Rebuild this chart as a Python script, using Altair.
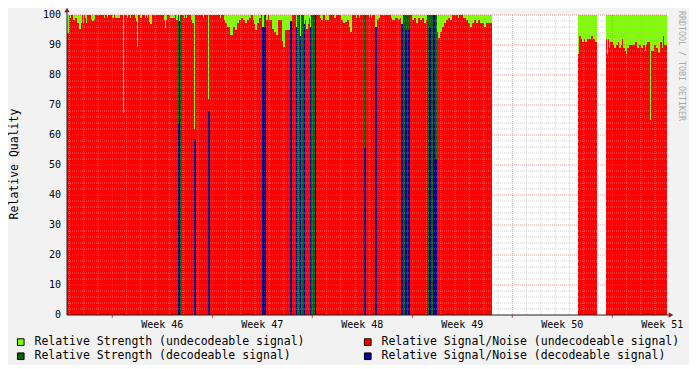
import altair as alt
import pandas as pd

# ---- time base: one consolidated RRD row per pixel column (~1.68 h) ----
ROW_DAYS = 0.07
START_DAY = -3.17      # plot start, in days relative to the Monday of week 46
END_DAY = 38.83

# ---- series as step lists: (row, value) holds until the next row; None = no data ----
strength_undec = [(0, 100), (425, None), (511, 100), (530, None), (539, 100), (600, None)]

sn_undec = [
    (0, 94), (2, 100), (3, 99), (4, 100), (6, 98.3), (8, 99), (10, 97.3), (12, 95.3),
    (14, 97.3), (15, 100), (16, 97.3), (17, 100), (18, 99), (19, 97.3), (20, 100),
    (24, 98.5), (25, 98), (27, 98.5), (28, 100), (37, 99), (38, 100), (40, 99), (41, 100),
    (45, 99), (47, 100), (48, 99), (53, 100), (56, 67.4), (57, 100), (60, 99), (61, 100),
    (63, 99), (64, 100), (68, 99), (69, 98), (70, 89.3), (71, 100), (73, 99), (75, 100),
    (78, 99), (79, 100), (80, 99), (81, 100), (82, 97.7), (83, 97), (85, 100),
    (97, 98.3), (98, 95.7), (99, 98.3), (100, 100), (103, 99), (108, 100), (109, 98.3),
    (111, None), (114, 100), (117, 99), (118, 100), (119, 99), (120, 100),
    (124, 98.3), (125, 97.3), (127, 62), (128, 100), (136, 99), (137, 100),
    (141, 72), (142, 100), (153, 99), (154, 100), (157, 98.3), (158, 97.3), (160, 96),
    (163, 93.3), (166, 96), (168, 95), (170, 97.3), (172, 98.3), (174, 99), (176, 98.3),
    (178, 97.3), (180, 98.3), (182, 99), (184, 100), (186, 98.3), (187, 97), (188, 95),
    (190, 97.3), (192, 99), (194, 100), (195, None), (199, 98.3), (201, 100),
    (202, 98.3), (205, 95.3), (207, 94.3), (209, 93.3), (211, 98.3), (215, 91.3),
    (216, 89.3), (218, 95), (223, None), (225, 100), (229, None), (234, 100),
    (235, None), (238, 98.3), (239, 95.3), (241, 97), (242, 99), (243, None),
    (249, 100), (253, 99), (254, 98.3), (256, 100), (258, 98.3), (262, 100),
    (267, 99), (269, 100), (274, 98.3), (276, 97.3), (278, 97.7), (280, 98.3),
    (282, 96), (283, 94.3), (285, 100), (289, 99), (290, 100), (292, 99), (293, 100),
    (297, None), (299, 100), (302, 99), (303, 100), (304, 99), (305, 100),
    (308, None), (310, 98.5), (312, 99), (313, 100), (324, 99), (325, 98.3),
    (328, 99), (331, 98.5), (333, 99), (334, None), (343, 100), (345, 98.3),
    (347, 99), (349, 97.3), (351, 99), (353, 98.3), (355, 99), (357, 97.3),
    (359, 98.3), (360, None), (370, 94.3), (371, 92.3), (373, 94.3), (375, 96),
    (377, 97.3), (379, 98.3), (381, 99), (383, 98.3), (385, 100), (391, 99),
    (392, 100), (396, 99), (399, 98.3), (401, 97.3), (403, 96), (405, 97.3),
    (407, 98.3), (409, 97.3), (411, 98.3), (413, 97.3), (417, 96), (419, 97.3),
    (425, None),
    (511, 87), (512, 93), (514, 92), (515, 91), (517, 92), (518, 91), (520, 92),
    (524, 93), (526, 92), (528, 91), (530, None),
    (539, 92), (540, 87), (541, 92), (542, 89), (543, 91), (546, 90), (547, 89),
    (549, 90), (551, 91), (552, 89), (554, 90), (555, 92), (556, 89), (558, 88),
    (559, 87), (560, 89), (562, 90), (568, 91), (570, 89), (572, 90), (574, 89),
    (576, 90), (578, 88), (579, 90), (580, 91), (583, 65), (584, 88), (587, 90),
    (589, 89), (591, 87.5), (593, 91), (595, 89), (596, 93), (597, 90), (600, None),
]

strength_dec = [
    (111, 100), (112, None), (113, 100), (114, None), (197, 100), (199, None),
    (230, 100), (233, None), (235, 100), (237, None), (244, 100), (248, None),
    (297, 100), (299, None), (336, 100), (343, None), (360, 100), (366, None),
    (368, 100), (370, None),
]

sn_dec = [
    (111, 64), (112, 98), (113, None), (127, 58.6), (129, None), (141, 68), (143, None),
    (195, 96), (199, None), (223, 98), (225, None), (229, 96), (230, None),
    (233, 93), (234, None), (237, 97), (238, None), (243, 96), (244, None),
    (248, 100), (249, None), (297, 55.7), (299, None), (308, 96), (310, None),
    (334, 97), (336, None), (338, 95), (340, None), (341, 95), (343, None),
    (362, 96), (364, None), (366, 100), (368, 52), (370, None),
]

S_UND = "Relative Strength (undecodeable signal)"
N_UND = "Relative Signal/Noise (undecodeable signal)"
S_DEC = "Relative Strength  (decodeable signal)"
N_DEC = "Relative Signal/Noise (decodeable signal)"
COLOR_OF = {S_UND: "#80FF00", N_UND: "#FF0000", S_DEC: "#006600", N_DEC: "#000099"}
# legend grid is filled column by column: left column first, then right column
LEGEND_ORDER = [S_UND, S_DEC, N_UND, N_DEC]

week_start_days = [0, 7, 14, 21, 28, 35]
week_label_days = [3.5, 10.5, 17.5, 24.5, 31.5, 38.5]
week_labels = ["Week 46", "Week 47", "Week 48", "Week 49", "Week 50", "Week 51"]
day_grid_days = [d for d in range(-3, 39) if d not in week_start_days]
y_major = [10, 20, 30, 40, 50, 60, 70, 80, 90, 100]
y_minor = [v for v in range(2, 100, 2) if v % 10 != 0]
y_labels = [0, 10, 20, 30, 40, 50, 60, 70, 80, 90, 100]
y_title = "Relative Quality"
watermark_text = "RRDTOOL / TOBI OETIKER"


def runs(steps, name):
    out = []
    for (r0, v), (r1, _) in zip(steps, steps[1:]):
        if v is None:
            continue
        out.append({"series": name, "t0": START_DAY + r0 * ROW_DAYS,
                    "t1": START_DAY + r1 * ROW_DAYS, "v": v, "base": 0})
    return pd.DataFrame(out)


MONO = "DejaVu Sans Mono"
xscale = alt.Scale(domain=[START_DAY, END_DAY], nice=False, zero=False)
yscale = alt.Scale(domain=[0, 100], nice=False, zero=True)
cscale = alt.Scale(domain=LEGEND_ORDER, range=[COLOR_OF[s] for s in LEGEND_ORDER])
legend = alt.Legend(
    title=None, orient="none", legendX=-52, legendY=321, columns=2,
    columnPadding=57, rowPadding=1.5, symbolType="square", symbolSize=44,
    symbolStrokeColor="black", symbolStrokeWidth=1, labelFont=MONO,
    labelFontSize=11.5, labelColor="black", labelOffset=8, labelLimit=500,
    padding=0, symbolOpacity=1,
)


def bars(steps, name):
    return alt.Chart(runs(steps, name)).mark_rect(strokeWidth=0).encode(
        x=alt.X("t0:Q", scale=xscale, axis=None),
        x2="t1:Q",
        y=alt.Y("v:Q", scale=yscale, axis=None),
        y2="base:Q",
        color=alt.Color("series:N", scale=cscale, legend=legend),
    )


layers = [
    bars(strength_undec, S_UND),
    bars(sn_undec, N_UND),
    bars(strength_dec, S_DEC),
    bars(sn_dec, N_DEC),
]

# grid on top of the data, as RRDtool draws it
minor_x = alt.Chart(pd.DataFrame({"d": day_grid_days})).mark_rule(
    color="#B4B4B4", opacity=0.55, strokeDash=[1, 1], strokeWidth=1
).encode(x=alt.X("d:Q", scale=xscale, axis=None))
major_x = alt.Chart(pd.DataFrame({"d": week_start_days})).mark_rule(
    color="#DE4F4F", opacity=0.55, strokeDash=[1, 1], strokeWidth=1
).encode(x=alt.X("d:Q", scale=xscale, axis=None))
minor_y = alt.Chart(pd.DataFrame({"v": y_minor})).mark_rule(
    color="#B4B4B4", opacity=0.55, strokeDash=[1, 1], strokeWidth=1
).encode(y=alt.Y("v:Q", scale=yscale, axis=None))
major_y = alt.Chart(pd.DataFrame({"v": y_major})).mark_rule(
    color="#DE4F4F", opacity=0.55, strokeDash=[1, 1], strokeWidth=1
).encode(y=alt.Y("v:Q", scale=yscale, axis=None))
week_ticks = alt.Chart(pd.DataFrame({"d": week_start_days})).mark_rule(
    color="#DE4F4F", strokeWidth=1
).encode(x=alt.X("d:Q", scale=xscale, axis=None), y=alt.value(300), y2=alt.value(303))

# axis labels and title
week_text = alt.Chart(pd.DataFrame({"d": week_label_days, "lab": week_labels})).mark_text(
    font=MONO, fontSize=10, color="black", align="center", baseline="alphabetic"
).encode(x=alt.X("d:Q", scale=xscale, axis=None), y=alt.value(313), text="lab:N")
y_text = alt.Chart(pd.DataFrame({"v": y_labels})).mark_text(
    font=MONO, fontSize=10, color="black", align="right", baseline="middle"
).encode(y=alt.Y("v:Q", scale=yscale, axis=None), x=alt.value(-6), text="v:Q")

one = pd.DataFrame({"k": [0]})
title_text = alt.Chart(one).mark_text(
    text=y_title, font=MONO, fontSize=11.5, color="black", angle=270,
    align="center", baseline="middle"
).encode(x=alt.value(-52), y=alt.value(149))

# axis lines with RRDtool arrows
y_line = alt.Chart(one).mark_rule(color="#1F1F1F", strokeWidth=1).encode(
    x=alt.value(0), y=alt.value(-4), y2=alt.value(300))
x_line = alt.Chart(one).mark_rule(color="#1F1F1F", strokeWidth=1).encode(
    x=alt.value(0), x2=alt.value(603), y=alt.value(300))
y_arrow = alt.Chart(one).mark_point(shape="triangle-up", filled=True, color="#801F1F",
                                    size=28, opacity=1).encode(
    x=alt.value(0), y=alt.value(-5))
x_arrow = alt.Chart(one).mark_point(shape="triangle-right", filled=True, color="#801F1F",
                                    size=28, opacity=1).encode(
    x=alt.value(604), y=alt.value(300))
watermark = alt.Chart(one).mark_text(
    text=watermark_text, font=MONO, fontSize=8.3, color="#A8A8A8",
    angle=90, align="center", baseline="middle"
).encode(x=alt.value(614), y=alt.value(51))

chart = alt.layer(
    *layers, minor_x, major_x, minor_y, major_y, week_ticks, week_text, y_text,
    title_text, y_line, x_line, y_arrow, x_arrow, watermark
).properties(
    width=600, height=300,
    padding={"left": 59, "top": 7, "right": 22, "bottom": 50},
    autosize=alt.AutoSizeParams(type="none"),
    background="#F2F2F2",
).configure_view(strokeWidth=0, fill="white")

chart.save("out.html", embed_options={"renderer": "svg", "actions": False})
